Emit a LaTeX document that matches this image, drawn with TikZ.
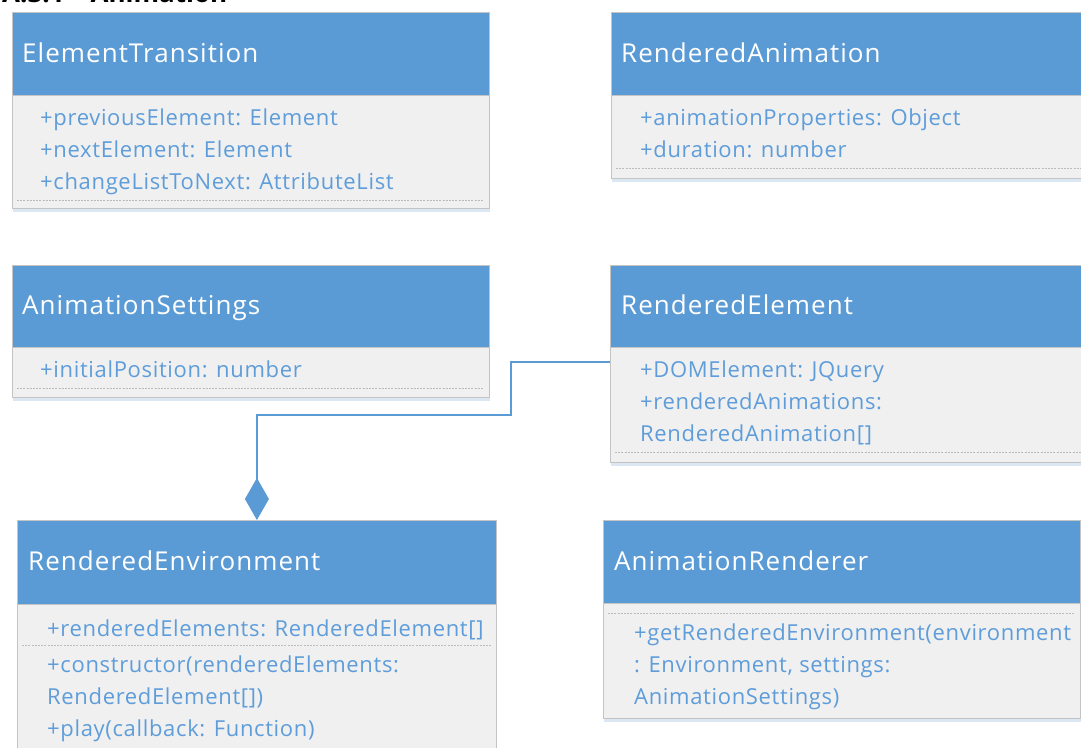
\documentclass[tikz,border=0pt]{standalone}
\usepackage{fontspec}
\setmainfont{Open Sans}
\newfontfamily\titlefont[LetterSpace=4.0]{Open Sans}
\newfontfamily\memberfont[LetterSpace=3.0]{Open Sans}
\usetikzlibrary{arrows.meta,calc}

\definecolor{hdr}{HTML}{5B9BD5}
\definecolor{bodybg}{HTML}{F0F0F0}
\definecolor{frame}{HTML}{C4C4C4}
\definecolor{attr}{HTML}{5E9DDA}
\definecolor{sep}{HTML}{BBBBBB}
\definecolor{shade}{HTML}{D3E1F0}

\tikzset{
  classhead/.style={draw=frame, fill=hdr, line width=0.8pt, inner sep=0pt,
    anchor=north west, minimum width=#1},
  classbody/.style={draw=frame, fill=bodybg, line width=0.8pt, inner sep=0pt,
    anchor=north west, minimum width=#1},
  title/.style={anchor=base west, inner sep=0pt, text=white,
    font=\titlefont\fontsize{26}{30}\selectfont},
  member/.style={anchor=base west, inner sep=0pt, text=attr,
    font=\memberfont\fontsize{22}{26}\selectfont},
  separator/.style={draw=sep, line width=0.7pt, dash pattern=on 2pt off 1.2pt},
  shadowbox/.style={fill=shade, opacity=0.8},
  composition/.style={draw=hdr, line width=1.4pt,
    -{Diamond[width=24pt,length=42pt,fill=hdr]}},
}

\begin{document}
\begin{tikzpicture}[x=1pt,y=-1pt]
\useasboundingbox (0,0) rectangle (1081,747);
\clip (0,0) rectangle (1081,747);
\fill[white] (0,0) rectangle (1081,747);

% section heading, running off the top edge of the page
\node[anchor=base west, inner sep=0pt, font=\bfseries\fontsize{26}{30}\selectfont]
  (heading) at (2,2) {A.3.1\quad Animation};

% ---------- ElementTransition ----------
\fill[shadowbox] (13,16) rectangle (490,212);
\node[classhead=477pt, minimum height=83pt] (etH) at (12,12) {};
\node[classbody=477pt, minimum height=113pt] (etB) at (12,95) {};
\node[title] (etT) at (22,62) {ElementTransition};
\node[member] (et1) at (40,125) {+previousElement: Element};
\node[member] (et2) at (40,157) {+nextElement: Element};
\node[member] (et3) at (40,189) {+changeListToNext: AttributeList};
\draw[separator] (17,200) -- (484,200);

% ---------- RenderedAnimation ----------
\fill[shadowbox] (612,16) rectangle (1095,182);
\node[classhead=480pt, minimum height=83pt] (raH) at (611,12) {};
\node[classbody=480pt, minimum height=83pt] (raB) at (611,95) {};
\node[title] (raT) at (621,62) {RenderedAnimation};
\node[member] (ra1) at (640,125) {+animationProperties: Object};
\node[member] (ra2) at (640,157) {+duration: number};
\draw[separator] (616,168) -- (1091,168);

% ---------- AnimationSettings ----------
\fill[shadowbox] (13,269) rectangle (490,401);
\node[classhead=477pt, minimum height=82pt] (asH) at (12,265) {};
\node[classbody=477pt, minimum height=50pt] (asB) at (12,347) {};
\node[title] (asT) at (22,314) {AnimationSettings};
\node[member] (as1) at (40,377) {+initialPosition: number};
\draw[separator] (17,388) -- (484,388);

% ---------- RenderedElement ----------
\fill[shadowbox] (611,269) rectangle (1095,466);
\node[classhead=481pt, minimum height=82pt] (reH) at (610,265) {};
\node[classbody=481pt, minimum height=115pt] (reB) at (610,347) {};
\node[title] (reT) at (621,314) {RenderedElement};
\node[member] (re1) at (640,377) {+DOMElement: JQuery};
\node[member] (re2) at (640,409) {+renderedAnimations:};
\node[member] (re3) at (640,441) {RenderedAnimation[]};
\draw[separator] (615,452) -- (1091,452);

% ---------- RenderedEnvironment ----------
\fill[shadowbox] (18,524) rectangle (497,770);
\node[classhead=479pt, minimum height=84pt] (envH) at (17,520) {};
\node[classbody=479pt, minimum height=160pt] (envB) at (17,604) {};
\node[title] (envT) at (28,570) {RenderedEnvironment};
\node[member] (env1) at (47,636) {+renderedElements: RenderedElement[]};
\draw[separator] (22,645) -- (491,645);
\node[member] (env2) at (47,672) {+constructor(renderedElements:};
\node[member] (env3) at (47,704) {RenderedElement[])};
\node[member] (env4) at (47,736) {+play(callback: Function)};

% ---------- AnimationRenderer ----------
\fill[shadowbox] (604,524) rectangle (1081,722);
\node[classhead=477pt, minimum height=83pt] (arH) at (603,520) {};
\node[classbody=477pt, minimum height=115pt] (arB) at (603,603) {};
\node[title] (arT) at (614,570) {AnimationRenderer};
\draw[separator] (608,613) -- (1075,613);
\node[member] (ar1) at (634,640) {+getRenderedEnvironment(environment};
\node[member] (ar2) at (634,672) {: Environment, settings:};
\node[member] (ar3) at (634,704) {AnimationSettings)};

% ---------- composition: RenderedEnvironment owns RenderedElement ----------
\coordinate (bend) at (511,415);
\draw[composition] ([yshift=-15pt]reB.north west) -| (bend) -| (envH.north);

\end{tikzpicture}
\end{document}
